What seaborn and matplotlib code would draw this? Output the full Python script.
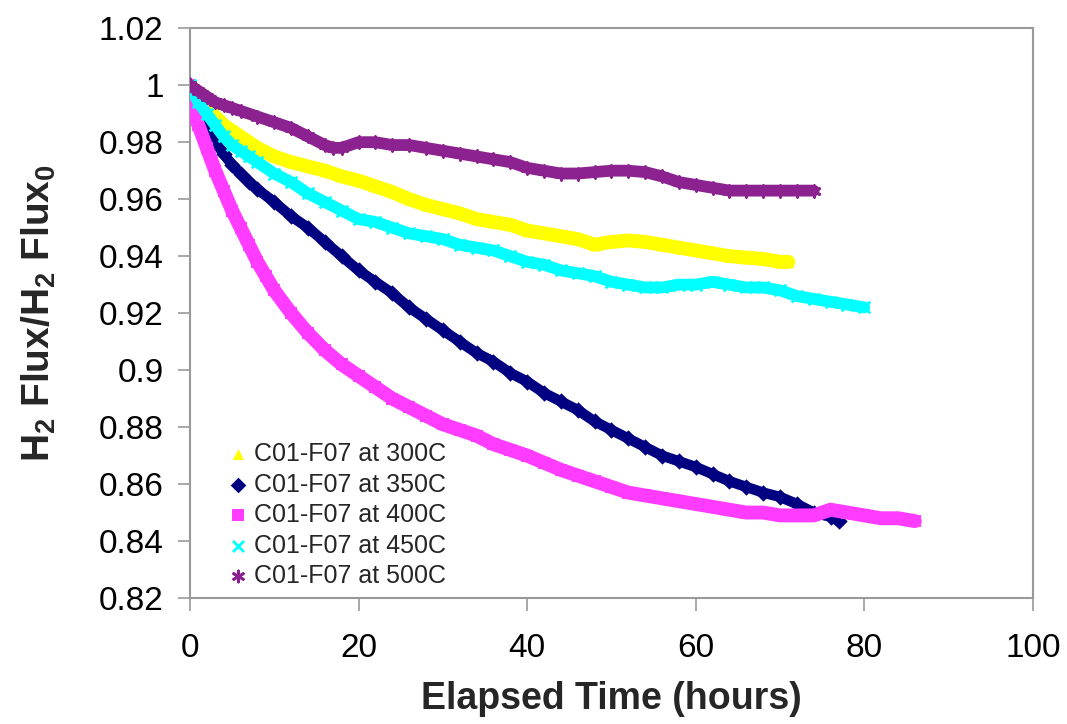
import matplotlib
matplotlib.use('Agg')
import matplotlib.pyplot as plt
from matplotlib.ticker import FuncFormatter, MultipleLocator
import pandas as pd
import seaborn as sns

# readings (elapsed hours, normalised flux)
t_300 = [0, 1, 2, 3, 4, 5, 6, 8, 10, 12, 14, 16, 18, 20, 22, 24, 26, 28, 30, 32, 34, 36,
         38, 40, 42, 44, 46, 48, 50, 52, 54, 56, 58, 60, 62, 64, 66, 68, 70, 71]
f_300 = [1.0, 0.995, 0.992, 0.989, 0.986, 0.984, 0.982, 0.978, 0.975, 0.973, 0.9715, 0.970,
         0.968, 0.9665, 0.9645, 0.9625, 0.960, 0.958, 0.9565, 0.955, 0.953, 0.952, 0.951,
         0.949, 0.948, 0.947, 0.946, 0.944, 0.945, 0.9455, 0.945, 0.944, 0.943, 0.942,
         0.941, 0.940, 0.9395, 0.939, 0.938, 0.938]

t_350 = [0, 1, 2, 3, 4, 5, 6, 7, 8, 10, 12, 14, 16, 18, 20, 22, 24, 26, 28, 30, 32, 34, 36,
         38, 40, 42, 44, 46, 48, 50, 52, 54, 56, 58, 60, 62, 64, 66, 68, 70, 72, 74, 76, 77]
f_350 = [1.0, 0.992, 0.985, 0.980, 0.976, 0.972, 0.969, 0.966, 0.9635, 0.959, 0.954, 0.950,
         0.945, 0.940, 0.935, 0.931, 0.927, 0.922, 0.918, 0.914, 0.910, 0.906, 0.903, 0.899,
         0.896, 0.892, 0.889, 0.886, 0.882, 0.879, 0.876, 0.873, 0.870, 0.868, 0.866, 0.8635,
         0.861, 0.859, 0.857, 0.8555, 0.853, 0.850, 0.8485, 0.847]

t_400 = [0, 0.5, 1, 2, 3, 4, 5, 6, 7, 8, 9, 10, 12, 14, 16, 18, 20, 22, 24, 26, 28, 30, 32,
         34, 36, 38, 40, 42, 44, 46, 48, 50, 52, 54, 56, 58, 60, 62, 64, 66, 68, 70, 72, 74,
         76, 78, 80, 82, 84, 86]
f_400 = [1.0, 0.99, 0.986, 0.978, 0.970, 0.963, 0.956, 0.950, 0.944, 0.938, 0.933, 0.928,
         0.920, 0.913, 0.907, 0.902, 0.898, 0.894, 0.890, 0.887, 0.884, 0.881, 0.879, 0.877,
         0.874, 0.872, 0.870, 0.8675, 0.865, 0.863, 0.861, 0.859, 0.857, 0.856, 0.855, 0.854,
         0.853, 0.852, 0.851, 0.850, 0.850, 0.849, 0.849, 0.849, 0.851, 0.850, 0.849, 0.848,
         0.848, 0.847]

t_450 = [0, 1, 2, 3, 4, 5, 6, 7, 8, 10, 12, 14, 16, 18, 20, 22, 24, 26, 28, 30, 32, 34, 36,
         38, 40, 42, 44, 46, 48, 50, 52, 54, 56, 58, 60, 62, 64, 66, 68, 70, 72, 74, 76, 78, 80]
f_450 = [1.0, 0.994, 0.990, 0.986, 0.982, 0.979, 0.977, 0.975, 0.973, 0.969, 0.966, 0.962,
         0.959, 0.956, 0.953, 0.952, 0.950, 0.948, 0.947, 0.946, 0.944, 0.943, 0.942, 0.940,
         0.938, 0.937, 0.935, 0.934, 0.933, 0.931, 0.930, 0.929, 0.929, 0.930, 0.930, 0.931,
         0.930, 0.929, 0.929, 0.928, 0.926, 0.925, 0.924, 0.923, 0.922]

t_500 = [0, 1, 2, 3, 4, 5, 6, 8, 10, 12, 14, 16, 17, 18, 20, 22, 24, 26, 28, 30, 32, 34, 36,
         38, 40, 42, 44, 46, 48, 50, 52, 54, 56, 58, 60, 62, 64, 66, 68, 70, 72, 74]
f_500 = [1.0, 0.998, 0.996, 0.994, 0.993, 0.992, 0.991, 0.989, 0.987, 0.985, 0.982, 0.979,
         0.978, 0.978, 0.980, 0.980, 0.979, 0.979, 0.978, 0.977, 0.976, 0.975, 0.974, 0.973,
         0.971, 0.970, 0.969, 0.969, 0.9695, 0.970, 0.970, 0.9695, 0.968, 0.966, 0.965, 0.964,
         0.963, 0.963, 0.963, 0.963, 0.963, 0.963]

labels = ['C01-F07 at 300C', 'C01-F07 at 350C', 'C01-F07 at 400C',
          'C01-F07 at 450C', 'C01-F07 at 500C']
times = [t_300, t_350, t_400, t_450, t_500]
fluxes = [f_300, f_350, f_400, f_450, f_500]

colors = ['#FFFF00', '#000080', '#FF3CFF', '#00FFFF', '#8B2290']
markers = ['^', 'D', 's', 'x', (6, 2, 0)]
widths = [10, 7.5, 10, 8.5, 8.5]

sns.set_style('white')
plt.rcParams['font.family'] = ['Liberation Sans', 'DejaVu Sans']
plt.rcParams['mathtext.fontset'] = 'custom'
plt.rcParams['mathtext.rm'] = 'Liberation Sans:bold'
plt.rcParams['mathtext.bf'] = 'Liberation Sans:bold'

fig = plt.figure(figsize=(10.67, 7.24), dpi=100)
ax = fig.add_axes([0.178, 0.174, 0.79, 0.787])

for i in range(5):
    df = pd.DataFrame({'t': times[i], 'f': fluxes[i]})
    sns.lineplot(data=df, x='t', y='f', color=colors[i], lw=widths[i],
                 solid_capstyle='round', solid_joinstyle='round', ax=ax, zorder=2 + i)
    if markers[i] == 'x' or isinstance(markers[i], tuple):
        sns.scatterplot(data=df, x='t', y='f', marker=markers[i], color=colors[i],
                        s=70, linewidth=2, label=labels[i], ax=ax, zorder=2 + i)
    else:
        sns.scatterplot(data=df, x='t', y='f', marker=markers[i], color=colors[i],
                        s=70, linewidth=0, label=labels[i], ax=ax, zorder=2 + i)

ax.set_xlim(0, 100)
ax.set_ylim(0.82, 1.02)
ax.xaxis.set_major_locator(MultipleLocator(20))
ax.yaxis.set_major_locator(MultipleLocator(0.02))
ax.yaxis.set_major_formatter(FuncFormatter(lambda v, p: '{:g}'.format(round(v, 2))))

for s in ax.spines.values():
    s.set_color('#999999')
    s.set_linewidth(1.5)
ax.tick_params(axis='both', direction='out', length=9, width=1.2, color='#999999',
               labelsize=24, labelcolor='black')
ax.tick_params(axis='x', pad=16)
ax.tick_params(axis='y', pad=10)
ax.tick_params(left=True, bottom=True)

ax.set_xlabel('Elapsed Time (hours)', fontsize=27, fontweight='bold')
ax.set_ylabel(r'H$_\mathbf{2}$ Flux/H$_\mathbf{2}$ Flux$_\mathbf{0}$', fontsize=28,
              fontweight='bold')
ax.xaxis.set_label_coords(0.5, -0.145)
ax.yaxis.set_label_coords(-0.157, 0.5)

leg = ax.legend(loc='lower left', bbox_to_anchor=(0.036, 0.0), frameon=False,
                fontsize=18, handlelength=0.6, handletextpad=0.35, labelspacing=0.26,
                borderaxespad=0, markerscale=0.95)

fig.savefig('out.png', dpi=100)
